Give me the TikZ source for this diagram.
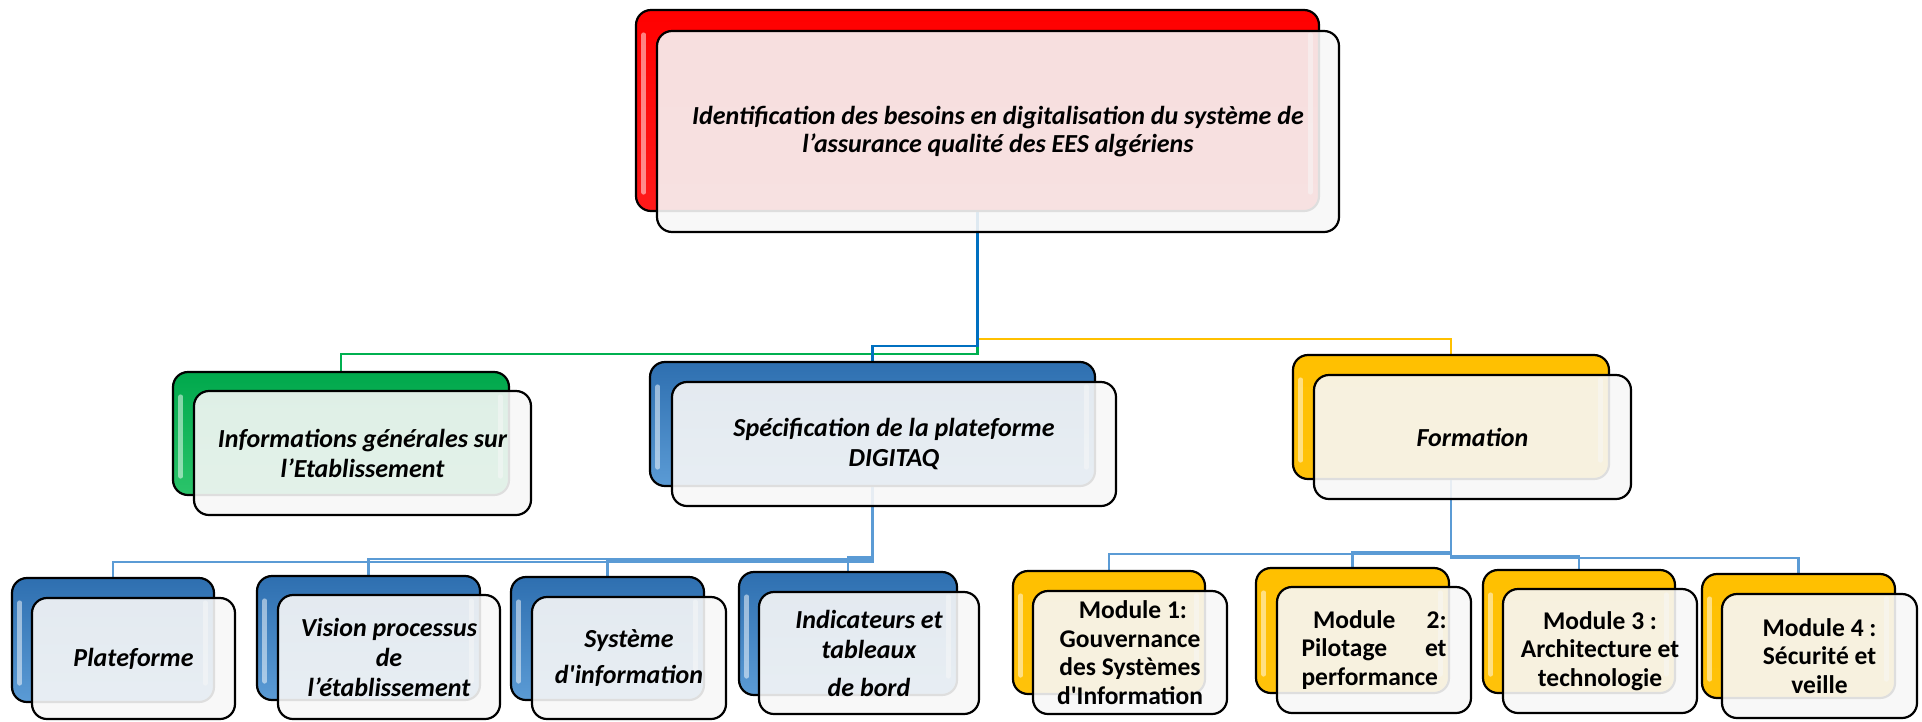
\documentclass[tikz,border=0pt]{standalone}
\usepackage{fontspec}
\setmainfont{Carlito}[Ligatures=TeXOff]
\usetikzlibrary{fit,calc}
\pgfdeclarelayer{bg}
\pgfsetlayers{bg,main}
\definecolor{redtop}{HTML}{FF0000}
\definecolor{redbot}{HTML}{FF1A1A}
\definecolor{greentop}{HTML}{00A84C}
\definecolor{greenbot}{HTML}{2BC46A}
\definecolor{bluetop}{HTML}{2E6FB0}
\definecolor{bluebot}{HTML}{5B9BD5}
\definecolor{yeltop}{HTML}{FFC000}
\definecolor{yelbot}{HTML}{FFC20A}
\definecolor{frontfill}{HTML}{F7F7F7}
\definecolor{cgreen}{HTML}{00B050}
\definecolor{cblue}{HTML}{0070C0}
\definecolor{cyellow}{HTML}{FFC000}
\definecolor{clight}{HTML}{5B9BD5}
\tikzset{
  backbox/.style={draw=black, line width=2.2pt, rounded corners=15pt, inner sep=0pt},
  frontbox/.style={draw=black, line width=2.2pt, rounded corners=15pt, inner sep=0pt, fill=frontfill, fill opacity=0.9},
  hilite/.style={white, line width=5pt, line cap=round, opacity=0.5},
  lbl/.style={font=\fontsize{26}{30}\selectfont\bfseries\itshape, align=center, text=black},
  tlbl/.style={font=\fontsize{26}{28.5}\selectfont\bfseries\itshape, align=center, text=black},
  mlbl/.style={font=\fontsize{25.5}{28.5}\selectfont\bfseries, align=center, text=black},
  conn/.style={line width=2.8pt},
}
\newcommand\duo[9]{%
  \node[backbox, top color=#6, bottom color=#7, fit={#2 #3}] (#1b) {};
  \draw[hilite] ($(#1b.north west)+(9,26)$) -- ($(#1b.south west)+(9,-20)$);
  \draw[hilite] ($(#1b.north east)+(-10,26)$) -- ($(#1b.south east)+(-10,-20)$);
  \node[frontbox, fit={#4 #5}] (#1) {};
  \node[#8] (#1t) at (#1.center) {#9};
}
\begin{document}
\begin{tikzpicture}[x=1pt,y=-1pt]
\useasboundingbox (0,0) rectangle (1922,721);
% top
\duo{top}{(636,10)}{(1319,211)}{(657,31)}{(1339,232)}{redtop}{redbot}{tlbl}{Identification des besoins en digitalisation du système de\\l’assurance qualité des EES algériens}
% level 2
\duo{gen}{(173,372)}{(509,495)}{(194,391)}{(531,515)}{greentop}{greenbot}{lbl}{Informations générales sur\\l’Etablissement}
\duo{spec}{(650,362)}{(1095,486)}{(672,382)}{(1116,506)}{bluetop}{bluebot}{lbl}{Spécification de la plateforme\\DIGITAQ}
\duo{form}{(1293,355)}{(1609,479)}{(1314,375)}{(1631,499)}{yeltop}{yelbot}{lbl}{Formation}
% level 3 (blue)
\duo{plat}{(12,578)}{(214,702)}{(32,598)}{(235,719)}{bluetop}{bluebot}{lbl}{Plateforme}
\duo{vis}{(257,576)}{(480,700)}{(278,595)}{(500,719)}{bluetop}{bluebot}{lbl}{Vision processus\\de\\l’établissement}
\duo{sys}{(511,577)}{(704,700)}{(532,597)}{(726,719)}{bluetop}{bluebot}{lbl}{Système\\[6pt]d'information}
\duo{ind}{(739,572)}{(957,695)}{(759,592)}{(979,714)}{bluetop}{bluebot}{lbl}{Indicateurs et\\tableaux\\[8pt]de bord}
% level 3 (yellow)
\duo{mone}{(1013,571)}{(1205,694)}{(1033,591)}{(1227,714)}{yeltop}{yelbot}{mlbl}{\ Module 1:\\Gouvernance\\des Systèmes\\d'Information}
\duo{mtwo}{(1256,568)}{(1449,693)}{(1277,587)}{(1471,713)}{yeltop}{yelbot}{mlbl}{\makebox[145pt]{\ \ Module\hfill 2:}\\\makebox[145pt]{Pilotage\hfill et}\\\makebox[145pt][l]{performance}}
\duo{mthree}{(1483,570)}{(1675,693)}{(1503,589)}{(1697,713)}{yeltop}{yelbot}{mlbl}{Module 3 :\\Architecture et\\technologie}
\duo{mfour}{(1702,574)}{(1895,698)}{(1722,594)}{(1917,718)}{yeltop}{yelbot}{mlbl}{Module 4 :\\Sécurité et\\veille}
% connectors
\begin{pgfonlayer}{bg}
\draw[conn, cyellow] (topb.south) -- (topb.south |- 0,339) -- (formb.north |- 0,339) -- (formb.north);
\draw[conn, cgreen] (topb.south) -- (topb.south |- 0,354) -- (genb.north |- 0,354) -- (genb.north);
\draw[conn, cblue] (topb.south) -- (topb.south |- 0,346) -- (specb.north |- 0,346) -- (specb.north);
\foreach \n/\y in {platb/562, visb/559, sysb/561, indb/557}
  \draw[conn, clight] (specb.south) -- (specb.south |- 0,\y) -- (\n.north |- 0,\y) -- (\n.north);
\foreach \n/\y in {moneb/554, mtwob/552, mthreeb/556, mfourb/558}
  \draw[conn, clight] (formb.south) -- (formb.south |- 0,\y) -- (\n.north |- 0,\y) -- (\n.north);
\end{pgfonlayer}
\end{tikzpicture}
\end{document}
